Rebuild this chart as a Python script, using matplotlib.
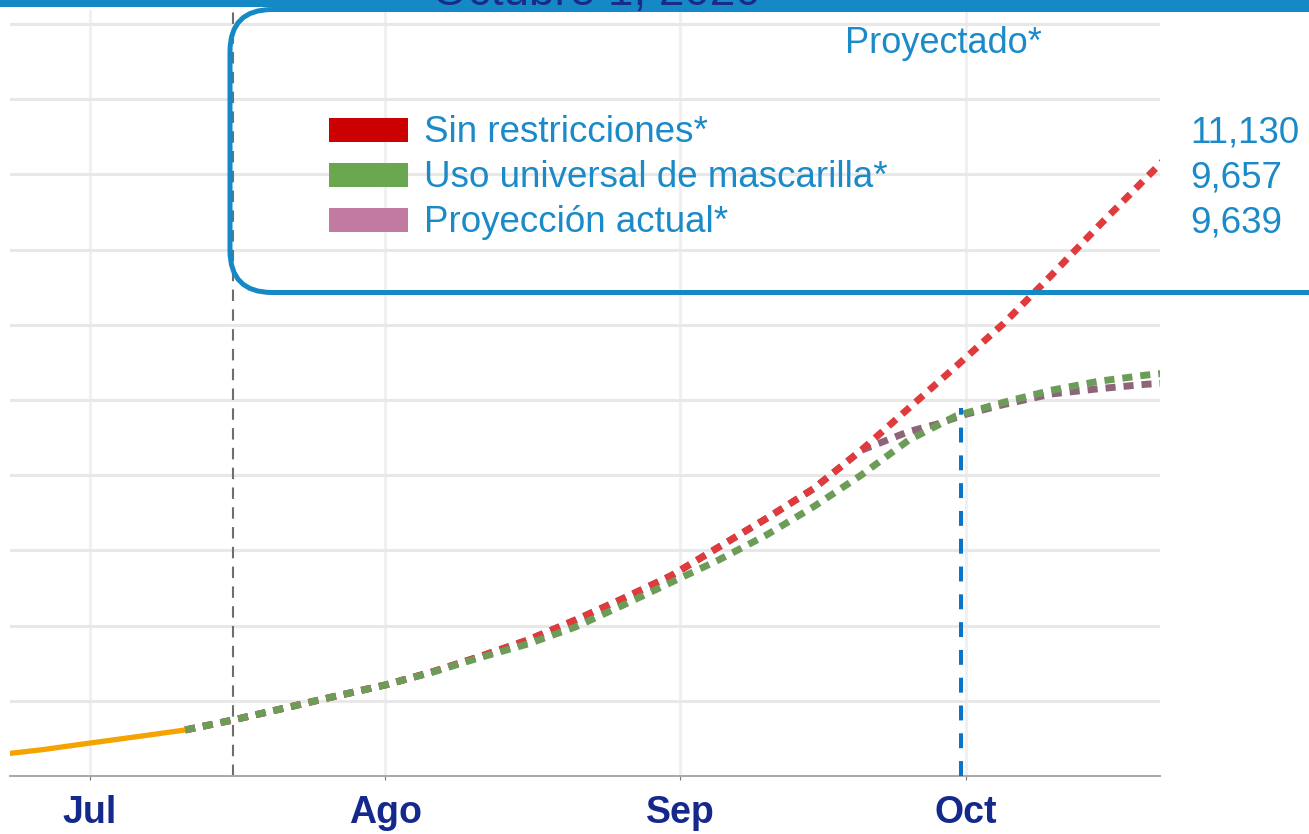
import numpy as np
import matplotlib
matplotlib.use("Agg")
import matplotlib.pyplot as plt
import matplotlib.dates as mdates
from matplotlib.patches import FancyBboxPatch, Rectangle
from matplotlib.ticker import MultipleLocator

plt.rcParams['font.family'] = ['Liberation Sans', 'DejaVu Sans']

# ---------------- data ----------------
obs_dates = ["2020-06-22", "2020-06-26", "2020-07-01", "2020-07-06", "2020-07-11"]
obs_values = [146, 175, 219, 262, 306]

proj_dates = ["2020-07-11", "2020-07-16", "2020-07-21", "2020-07-26", "2020-08-01",
              "2020-08-06", "2020-08-11", "2020-08-16", "2020-08-21", "2020-08-26",
              "2020-08-31", "2020-09-05", "2020-09-10", "2020-09-15", "2020-09-20",
              "2020-09-25", "2020-09-30", "2020-10-05", "2020-10-10", "2020-10-15",
              "2020-10-20", "2020-10-23"]
sin_restricciones = [306, 372, 445, 519, 605, 693, 795, 904, 1037, 1180,
                     1330, 1520, 1710, 1910, 2165, 2445, 2725, 3010, 3330, 3660,
                     3980, 4170]
mascarilla = [306, 372, 445, 519, 605, 691, 788, 878, 991, 1136,
              1286, 1435, 1600, 1790, 2000, 2233, 2395, 2485, 2565, 2625,
              2666, 2685]

actual_dates = ["2020-07-11", "2020-07-16", "2020-07-21", "2020-07-26", "2020-08-01",
                "2020-08-06", "2020-08-11", "2020-08-16", "2020-08-21", "2020-08-26",
                "2020-08-31", "2020-09-05", "2020-09-10", "2020-09-15", "2020-09-20",
                "2020-09-22", "2020-09-25", "2020-09-28", "2020-10-01", "2020-10-05",
                "2020-10-10", "2020-10-15", "2020-10-20", "2020-10-23"]
proyeccion_actual = [306, 372, 445, 519, 605, 693, 795, 904, 1037, 1180,
                     1330, 1520, 1710, 1910, 2165, 2215, 2290, 2340, 2405, 2470,
                     2540, 2575, 2605, 2615]

month_ticks = ["2020-07-01", "2020-08-01", "2020-09-01", "2020-10-01"]
month_labels = ["Jul", "Ago", "Sep", "Oct"]

legend_labels = ["Sin restricciones*", "Uso universal de mascarilla*", "Proyección actual*"]
legend_values = ["11,130", "9,657", "9,639"]
legend_colors = ["#CC0000", "#6AA84F", "#C27BA0"]

fecha_corte = "2020-07-16"          # grey dashed marker
fecha_hoy = "2020-09-30T12:00"      # blue dashed marker
valor_hoy = 2447
titulo = "Octubre 1, 2020"
subtitulo = "Proyectado*"

# ---------------- figure ----------------
W, H = 1309, 834
fig = plt.figure(figsize=(W / 100, H / 100), dpi=100)
fig.patch.set_facecolor("white")

ax = fig.add_axes([10 / W, (H - 776) / H, 1150 / W, 766 / H])
d = lambda s: mdates.date2num(np.datetime64(s))
x0 = d("2020-07-01")
ax.set_xlim(x0 - 8.4, x0 + 112.4)
ax.set_ylim(0, 5093)

ax.yaxis.set_major_locator(MultipleLocator(500))
ax.set_yticklabels([])
ax.tick_params(axis='y', length=0)
ax.set_xticks([d(m) for m in month_ticks])
ax.set_xticklabels(month_labels, fontsize=27, fontweight='bold', color='#15298C')
ax.tick_params(axis='x', length=3, color='#777777', pad=11)
ax.yaxis.grid(True, color='#E8E8E8', lw=2.2, zorder=0)
ax.xaxis.grid(True, color='#F0F0F0', lw=2.2, zorder=0)
ax.set_axisbelow(True)
for s in ['left', 'right', 'top']:
    ax.spines[s].set_visible(False)
ax.spines['bottom'].set_color('#A8A8A8')
ax.spines['bottom'].set_linewidth(1.4)

obs_x = [d(s) for s in obs_dates]
proj_x = [d(s) for s in proj_dates]
act_x = [d(s) for s in actual_dates]

ax.axvline(d(fecha_corte), color='#6E6E6E', lw=1.5, ls=(0, (5.5, 4)), zorder=1)

dash = (0, (1.45, 1.15))
ax.plot(act_x, proyeccion_actual, color='#8E6578', lw=5, ls=dash, zorder=3)
ax.plot(proj_x, sin_restricciones, color='#E03A3C', lw=5, ls=dash, zorder=4)
ax.plot(proj_x, mascarilla, color='#6B9C58', lw=5, ls=dash, zorder=5)
ax.plot(obs_x, obs_values, color='#F5A300', lw=3.8, solid_capstyle='butt', zorder=6)

ax.vlines(d(fecha_hoy), 0, valor_hoy, color='#0A74C8', lw=2.9,
          linestyles=[(0, (3.7, 3.2))], zorder=7)

# ---------------- overlay (pixel coordinates) ----------------
ov = fig.add_axes([0, 0, 1, 1], zorder=10)
ov.set_xlim(0, W)
ov.set_ylim(H, 0)
ov.axis('off')
ov.patch.set_alpha(0)

ov.add_patch(Rectangle((0, 0), W, 7, color='#1589C6', lw=0))
ov.text(596, 5, titulo, ha='center', va='baseline', fontsize=33, color='#1A2A8A')

box = FancyBboxPatch((230, 9.5), 1150, 283, boxstyle="round,pad=0,rounding_size=42",
                     fill=False, ec='#1589C6', lw=3.6)
ov.add_patch(box)

txt_color = '#1B8AC8'
ov.text(845, 53, subtitulo, ha='left', va='baseline', fontsize=26, color=txt_color)
baselines = [142, 187, 232]
for lab, val, col, yb in zip(legend_labels, legend_values, legend_colors, baselines):
    ov.add_patch(Rectangle((329, yb - 24), 79, 24, color=col, lw=0))
    ov.text(424, yb, lab, ha='left', va='baseline', fontsize=26.5, color=txt_color)
    ov.text(1190, yb, val, ha='left', va='baseline', fontsize=26.5, color=txt_color)

fig.savefig("out.png", dpi=100)
